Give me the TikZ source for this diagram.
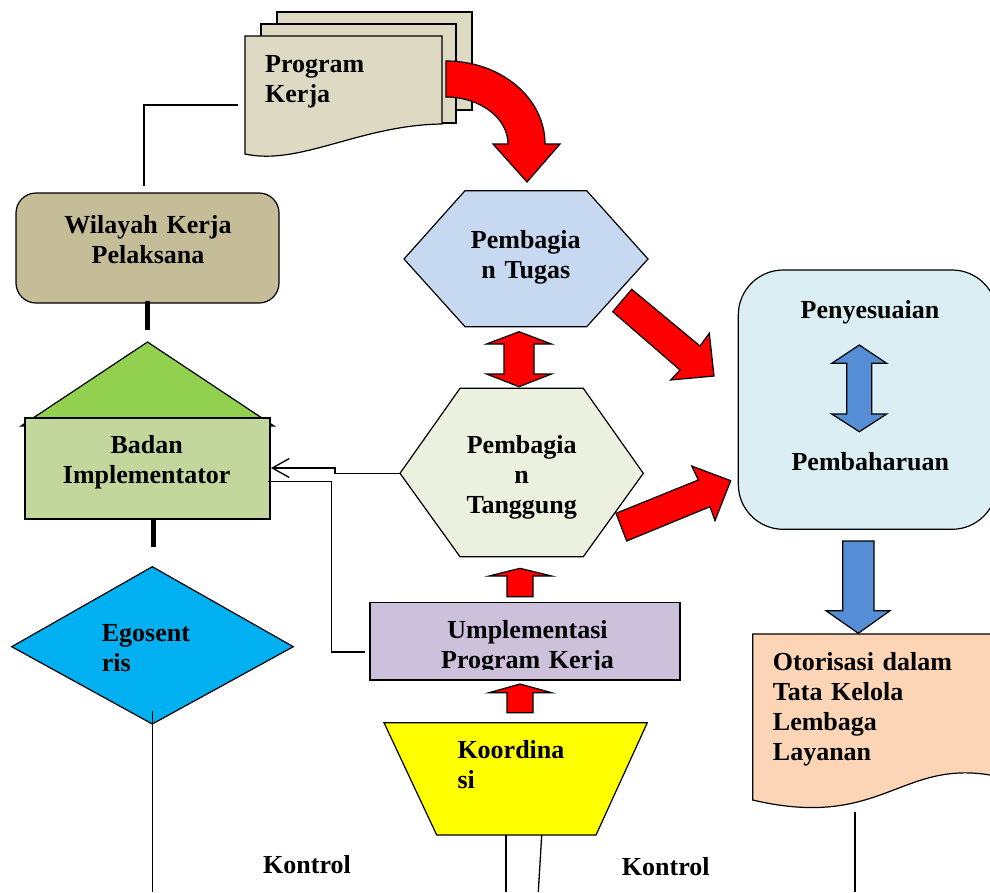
\documentclass[tikz,border=0pt]{standalone}
\usepackage{fontspec}
\setmainfont{Liberation Serif}
\usetikzlibrary{arrows.meta}
\definecolor{kerjafill}{HTML}{DDD9C3}
\definecolor{wilayahfill}{HTML}{C4BD97}
\definecolor{roofgreen}{HTML}{92D050}
\definecolor{badanfill}{HTML}{C3D69B}
\definecolor{egofill}{HTML}{00B0F0}
\definecolor{tugasfill}{HTML}{C6D9F1}
\definecolor{tanggungfill}{HTML}{EBF1DE}
\definecolor{umplfill}{HTML}{CCC0DA}
\definecolor{koorfill}{HTML}{FFFF00}
\definecolor{adaptfill}{HTML}{DBEEF4}
\definecolor{otorfill}{HTML}{FBD5B5}
\definecolor{arrowred}{HTML}{FF0000}
\definecolor{arrowblue}{HTML}{558ED5}
\begin{document}
\begin{tikzpicture}[x=1pt,y=-1pt,line join=miter,
  outline/.style={draw=black,line width=1.2pt},
  conn/.style={draw=black,line width=1.3pt},
  heavylink/.style={draw=black,line width=5pt},
  redblock/.style={fill=arrowred,draw=black,line width=1.2pt},
  blueblock/.style={fill=arrowblue,draw=black,line width=1.2pt},
  lbl/.style={font=\fontsize{26}{30}\selectfont\bfseries,inner sep=0pt,text width=300pt},
  lblc/.style={lbl,align=center,anchor=base},
  lbll/.style={lbl,align=left,anchor=base west},
  box/.style={outline,inner sep=0pt}]
\useasboundingbox (0,0) rectangle (990,892);
\clip (0,0) rectangle (990,892);

% --- Program Kerja (stack of documents)
\draw[outline,fill=kerjafill] (277,12) rectangle (472,110);
\draw[outline,fill=kerjafill] (261,24) rectangle (456,123);
\draw[outline,fill=kerjafill] (245,36) -- (442,36) -- (442,124)
  .. controls (360,125) and (300,166) .. (245,154) -- cycle;
\node[lbll] (kerjatxt) at (265,72.7) {Program\\Kerja};
\coordinate (kerjaW) at (238,105);

% curved red arrow into Pembagian Tugas
\draw[redblock] (446,61) .. controls (501,61) and (545,98) .. (545,144)
  -- (560,144) -- (527,182) -- (493,144) -- (508,144)
  .. controls (508,118) and (480,97) .. (446,97) -- cycle;

% --- Wilayah Kerja Pelaksana
\node[box,fill=wilayahfill,rounded corners=20pt,minimum width=263pt,minimum height=110pt] (wilayah) at (147.5,248) {};
\node[lblc] (wilayahtxt) at (148,233) {Wilayah Kerja\\Pelaksana};
\coordinate (wilayahN) at (144,186);
\draw[conn] (kerjaW) -| (wilayahN);
\coordinate (roofgap) at (147,330);
\draw[heavylink] (147,301) -- (roofgap);

% --- Badan Implementator (house)
\draw[outline,fill=roofgreen] (147.5,342) -- (274,426) -- (21,426) -- cycle;
\node[box,fill=badanfill,minimum width=245pt,minimum height=101pt] (badan) at (147.5,468.5) {};
\node[lblc] (badantxt) at (146.7,453) {Badan\\Implementator};
\coordinate (badanlow) at (153,547);
\draw[heavylink] (153,520) -- (badanlow);

% --- Egosentris
\draw[outline,fill=egofill] (11.7,646.7) coordinate (egoW) -- (152.3,566.7) coordinate (egoN)
  -- (293.3,646.7) coordinate (egoE) -- (152.3,724) coordinate (egoS) -- cycle;
\node[lbll] (egotxt) at (101.7,641.7) {Egosent\\ris};
\coordinate (egotail) at (152.3,711);
\coordinate (egoend) at (152.3,892);
\draw[conn] (egotail) -- (egoend);

% --- Pembagian Tugas
\draw[outline,fill=tugasfill] (404,259) -- (465,190.7) -- (586.7,190.7) -- (648,259)
  -- (586.7,326.7) -- (465,326.7) -- cycle;
\node[lblc] (tugastxt) at (525.8,248) {Pembagia\\n Tugas};

% red double arrow between the hexagons
\draw[redblock] (519,331.7) -- (551.5,344) -- (534,344) -- (534,374) -- (551.5,374)
  -- (519,386.7) -- (486.5,374) -- (504,374) -- (504,344) -- (486.5,344) -- cycle;

% --- Pembagian Tanggung
\draw[outline,fill=tanggungfill] (400,473.3) coordinate (tanggungW) -- (460,388.3) -- (583.3,388.3)
  -- (643.3,473.3) -- (583.3,556.7) -- (460,556.7) -- cycle;
\node[lblc] (tanggungtxt) at (521.7,453) {Pembagia\\n\\Tanggung};

% connectors to Badan Implementator
\coordinate (badanin) at (271,468);
\draw[conn,-{Straight Barb[length=17pt,width=19pt,line width=1.3pt]}]
  (tanggungW) -- (335,473.3) -- (335,468) -- (badanin);
\coordinate (badanout) at (268,481.7);
\coordinate (umplW) at (365,652);
\draw[conn] (badanout) -- (331.7,481.7) -- (331.7,652) -- (umplW);

% red up arrow into Pembagian Tanggung
\draw[redblock] (520,568.3) -- (551.7,576) -- (533,576) -- (533,596.7) -- (507,596.7)
  -- (507,576) -- (489,576) -- cycle;

% --- Umplementasi Program Kerja
\node[box,fill=umplfill,minimum width=310pt,minimum height=77.3pt] (umpl) at (525,641.35) {};
\begin{scope}
  \clip (370,602.7) rectangle (680,669.5);
  \node[lblc] (umpltxt) at (527.5,668.5) [yshift=30pt] {Umplementasi\\Program Kerja};
\end{scope}

% red up arrow into Umplementasi
\draw[redblock] (520,684) -- (551.7,692.7) -- (533,692.7) -- (533,712.7) -- (507,712.7)
  -- (507,692.7) -- (489,692.7) -- cycle;

% --- Koordinasi
\draw[outline,fill=koorfill] (384,722.7) -- (647.3,722.7) -- (596,835) -- (436.7,835) -- cycle;
\node[lbll] (koortxt) at (457.3,758) {Koordina\\si};
\coordinate (koorA) at (506,835);
\coordinate (koorAend) at (506,892);
\coordinate (koorB) at (541.7,835);
\coordinate (koorBend) at (538.3,892);
\draw[conn] (koorA) -- (koorAend);
\draw[conn] (koorB) -- (koorBend);

% Kontrol labels
\node[lbl,anchor=base west,text width=] (kontrolL) at (263,873) {Kontrol};
\node[lbl,anchor=base west,text width=] (kontrolR) at (621.7,875) {Kontrol};

% --- Penyesuaian / Pembaharuan
\draw[outline,fill=adaptfill,rounded corners=45pt] (738.3,270) rectangle (997,529.3);
\node[lblc] (penytxt) at (870,318.3) {Penyesuaian};
\node[lblc] (pembtxt) at (870.3,470.7) {Pembaharuan};
\draw[blueblock] (859.3,345) -- (886.7,363.3) -- (871.7,363.3) -- (871.7,414) -- (886.7,414)
  -- (859.3,431.7) -- (831.7,414) -- (846.7,414) -- (846.7,363.3) -- (831.7,363.3) -- cycle;

% red arrows into the right box
\draw[redblock] (612.7,311.7) -- (631.7,289.3) -- (700,346) -- (709.3,333.3) -- (714,376)
  -- (670.7,380) -- (680,370) -- cycle;
\draw[redblock] (616,513.3) -- (698.3,480) -- (691.7,466) -- (730.7,480.7) -- (715,520.7)
  -- (710,506.7) -- (626.7,541) -- cycle;

% blue arrow down to Otorisasi
\draw[blueblock] (842.7,541) -- (874,541) -- (874,610.7) -- (890,610.7) -- (858.3,633.3)
  -- (826,610.7) -- (842.7,610.7) -- cycle;

% --- Otorisasi document
\draw[outline,fill=otorfill] (752.7,634) -- (1000,634) -- (1000,776) -- (990,775)
  .. controls (900,760) and (880,830) .. (752.7,800) -- cycle;
\node[lbll] (otortxt) at (772.7,670) {Otorisasi dalam\\Tata Kelola\\Lembaga\\Layanan};
\coordinate (otortail) at (855,811.7);
\coordinate (otorend) at (855,892);
\draw[conn] (otortail) -- (otorend);
\end{tikzpicture}
\end{document}
